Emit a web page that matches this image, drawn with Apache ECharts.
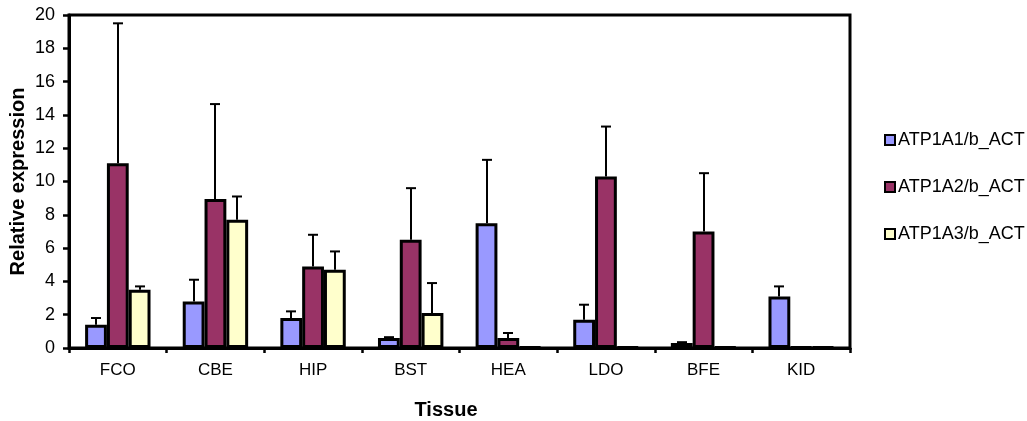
<!DOCTYPE html>
<html>
<head>
<meta charset="utf-8">
<script src="https://cdn.jsdelivr.net/npm/echarts@6/dist/echarts.min.js"></script>
<style>
  html, body { margin: 0; padding: 0; background: #fff; }
  #chart { width: 1027px; height: 421px; }
</style>
</head>
<body>
<div id="chart"></div>
<script>
const categories = ['FCO', 'CBE', 'HIP', 'BST', 'HEA', 'LDO', 'BFE', 'KID'];
const seriesNames = ['ATP1A1/b_ACT', 'ATP1A2/b_ACT', 'ATP1A3/b_ACT'];
const atp1a1 = [1.4, 2.8, 1.8, 0.6, 7.5, 1.7, 0.3, 3.1];
const atp1a1Err = [0.4, 1.3, 0.4, 0.05, 3.8, 0.9, 0.05, 0.6];
const atp1a2 = [11.1, 8.95, 4.9, 6.5, 0.6, 10.3, 7.0, 0.05];
const atp1a2Err = [8.4, 5.7, 1.9, 3.1, 0.3, 3.0, 3.5, 0];
const atp1a3 = [3.5, 7.7, 4.7, 2.1, 0.05, 0.05, 0.05, 0.05];
const atp1a3Err = [0.2, 1.4, 1.1, 1.8, 0, 0, 0, 0];
const yTicks = { min: 0, max: 20, interval: 2 };

const colors = ['#9999FF', '#993366', '#FFFFCC'];
const FONT = "'Liberation Sans', Arial, sans-serif";
const CAT_GAP = 0.33;

const means = [atp1a1, atp1a2, atp1a3];
const errs = [atp1a1Err, atp1a2Err, atp1a3Err];

const barSeries = means.map((vals, i) => ({
  name: seriesNames[i],
  type: 'bar',
  data: vals,
  barGap: '0%',
  barCategoryGap: (CAT_GAP * 100) + '%',
  itemStyle: { color: colors[i], borderColor: '#000', borderWidth: 3 },
  z: 2
}));

const errSeries = means.map((vals, i) => ({
  name: 'err' + i,
  type: 'custom',
  z: 3,
  silent: true,
  data: vals.map((v, k) => [k, v, errs[i][k]]),
  renderItem: function (params, api) {
    const ci = api.value(0), m = api.value(1), e = api.value(2);
    if (!(e > 0)) return null;
    const band = api.size([1, 0])[0];
    const bw = band * (1 - CAT_GAP) / 3;
    const base = api.coord([ci, m]);
    const top = api.coord([ci, m + e]);
    const x = Math.round(base[0] + (i - 1) * bw);
    const st = { stroke: '#000', lineWidth: 2 };
    return {
      type: 'group',
      children: [
        { type: 'line', shape: { x1: x, y1: base[1], x2: x, y2: top[1] }, style: st },
        { type: 'line', shape: { x1: x - 5, y1: top[1], x2: x + 5, y2: top[1] }, style: st }
      ]
    };
  }
}));

const chart = echarts.init(document.getElementById('chart'));
chart.setOption({
  animation: false,
  backgroundColor: '#fff',
  grid: { left: 69, right: 177, top: 15, bottom: 73, outerBoundsMode: 'none', containLabel: false, show: true, borderColor: '#000', borderWidth: 3, backgroundColor: 'transparent' },
  legend: {
    data: seriesNames,
    orient: 'vertical',
    left: 884,
    top: 130,
    padding: 0,
    itemWidth: 10,
    itemHeight: 10,
    itemGap: 27,
    icon: 'rect',
    itemStyle: { borderColor: '#000', borderWidth: 2 },
    textStyle: { fontFamily: FONT, fontSize: 18, color: '#000', lineHeight: 20, padding: [0, 0, 0, -2] }
  },
  xAxis: {
    type: 'category',
    data: categories,
    name: 'Tissue',
    nameLocation: 'middle',
    nameGap: 52,
    nameMoveOverlap: false,
    nameTextStyle: { fontFamily: FONT, fontSize: 20, fontWeight: 'bold', color: '#000', padding: [0, 27, 0, 0] },
    axisLine: { lineStyle: { color: '#000', width: 3 } },
    axisTick: { show: true, length: 5, lineStyle: { color: '#000', width: 2.5 } },
    axisLabel: { fontFamily: FONT, fontSize: 17, color: '#000', margin: 14 },
    splitLine: { show: false }
  },
  yAxis: {
    type: 'value',
    min: yTicks.min,
    max: yTicks.max,
    interval: yTicks.interval,
    name: 'Relative expression',
    nameLocation: 'middle',
    nameGap: 41,
    nameMoveOverlap: false,
    nameTextStyle: { fontFamily: FONT, fontSize: 20, fontWeight: 'bold', color: '#000' },
    axisLine: { show: true, lineStyle: { color: '#000', width: 3 } },
    axisTick: { show: true, length: 6, lineStyle: { color: '#000', width: 2.5 } },
    axisLabel: { fontFamily: FONT, fontSize: 18, color: '#000', margin: 14 },
    splitLine: { show: false }
  },
  series: barSeries.concat(errSeries)
});
</script>
</body>
</html>
